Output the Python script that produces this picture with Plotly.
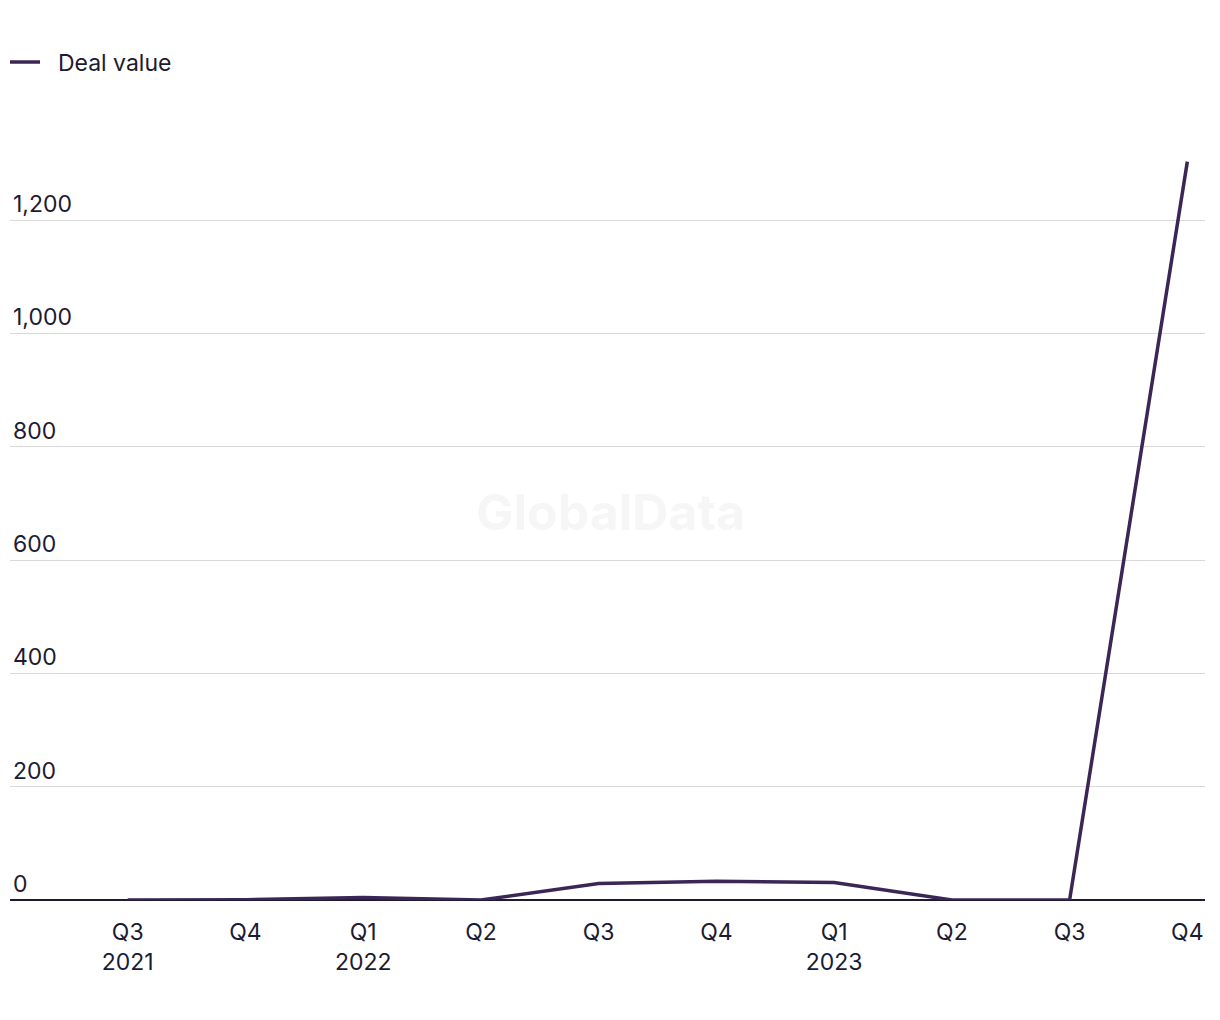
import plotly.graph_objects as go

quarters = ["Q3", "Q4", "Q1", "Q2", "Q3", "Q4", "Q1", "Q2", "Q3", "Q4"]
years = ["2021", "", "2022", "", "", "", "2023", "", "", ""]
deal_value = [0, 0.5, 4.5, 0, 29, 33, 31, 0, 0, 1303]

ticktext = [q + ("<br>" + y if y else "") for q, y in zip(quarters, years)]
xidx = list(range(len(quarters)))

FONT = "Inter, Roboto, sans-serif"
TXT = "#1c1b33"
LINE = "#3b2656"

fig = go.Figure()
fig.add_trace(go.Scatter(
    x=xidx, y=deal_value, mode="lines", name="\u00a0\u00a0Deal value",
    line=dict(color=LINE, width=3.5),
))

fig.update_layout(
    width=1220, height=1020,
    margin=dict(l=10, r=15, t=152, b=120),
    paper_bgcolor="white", plot_bgcolor="white",
    font=dict(family=FONT, size=23, color=TXT),
    showlegend=True,
    legend=dict(x=5 / 1220, xref="container", y=1 - 62 / 1020, yref="container",
                yanchor="middle", xanchor="left", orientation="h",
                font=dict(size=23, color=TXT), itemwidth=30),
    xaxis=dict(
        range=[-1, 9.15], tickmode="array", tickvals=xidx, ticktext=ticktext,
        showgrid=False, zeroline=False, showline=False,
        ticks="outside", ticklen=11, tickcolor="rgba(0,0,0,0)",
        tickfont=dict(size=23, color=TXT),
    ),
    yaxis=dict(
        range=[0, 1320], tickvals=[0, 200, 400, 600, 800, 1000, 1200],
        tickformat=",", showgrid=True, gridcolor="#d9d9d9", gridwidth=1.3,
        zeroline=True, zerolinecolor=TXT, zerolinewidth=1.6,
        ticklabelposition="inside top", ticks="", showline=False,
        tickfont=dict(size=23, color=TXT),
    ),
    annotations=[dict(
        text="<b>GlobalData</b>", x=0.5025, y=0.519, xref="paper", yref="paper",
        showarrow=False, font=dict(family="Inter, Roboto, sans-serif", size=50, color="#f6f6f6"),
    )],
)

fig.write_html("out.html")
